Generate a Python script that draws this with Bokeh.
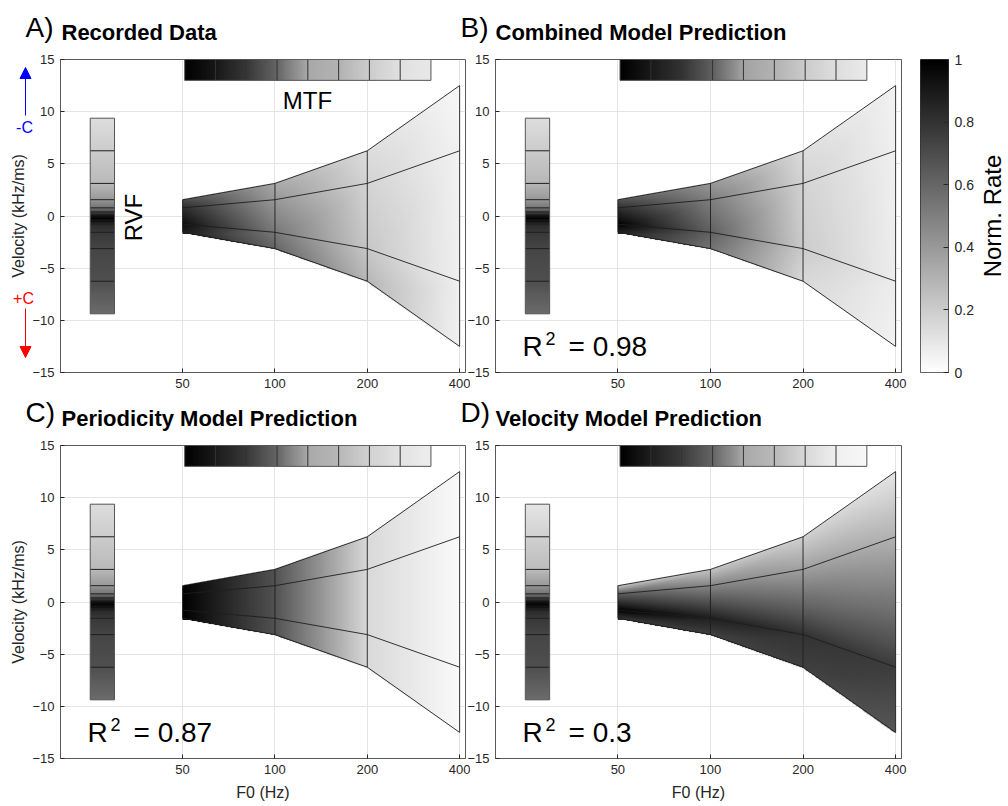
import numpy as np
from bokeh.plotting import figure
from bokeh.layouts import row, column
from bokeh.models import (Range1d, FixedTicker, BasicTickFormatter, NumeralTickFormatter,
                          Label, Arrow, NormalHead, LinearAxis)
from bokeh.embed import file_html
from bokeh.resources import INLINE

# ---------------------------------------------------------------- data
# Stimulus grid: fundamental frequency and chirp velocity (kHz/ms)
F0 = [50, 100, 200, 400]
VEL_OUTER = [1.5625, 3.125, 6.25, 12.5]
VEL_INNER = [0.78125, 1.5625, 3.125, 6.25]

# Normalised rate at each stimulus, rows = +outer, +inner, -inner, -outer velocity
rate_recorded = [[0.70, 0.33, 0.13, 0.03],
                 [0.82, 0.40, 0.17, 0.05],
                 [0.95, 0.53, 0.22, 0.06],
                 [0.90, 0.60, 0.28, 0.05]]
rate_combined = [[0.67, 0.40, 0.13, 0.05],
                 [0.80, 0.50, 0.17, 0.06],
                 [1.00, 0.62, 0.20, 0.07],
                 [0.88, 0.55, 0.15, 0.05]]
rate_periodicity = [[1.00, 0.68, 0.15, 0.02],
                    [1.00, 0.68, 0.15, 0.02],
                    [1.00, 0.68, 0.15, 0.02],
                    [1.00, 0.68, 0.15, 0.02]]
rate_velocity = [[0.22, 0.22, 0.18, 0.10],
                 [0.62, 0.47, 0.37, 0.30],
                 [1.00, 0.88, 0.80, 0.76],
                 [0.80, 0.75, 0.75, 0.66]]

# Rate-velocity function (top to bottom)
RVF_VEL = [9.375, 6.25, 3.125, 1.5625, 0.78125, 0.390625, 0.0,
           -0.390625, -0.78125, -1.5625, -3.125, -6.25, -9.375]
RVF_LINES = [6.25, 3.125, 1.5625, 0.78125, 0.390625,
             -0.390625, -0.78125, -1.5625, -3.125, -6.25]
rvf_recorded = [0.13, 0.20, 0.27, 0.40, 0.53, 0.67, 0.92, 1.00, 0.84, 0.78, 0.73, 0.69, 0.58]
rvf_combined = [0.13, 0.20, 0.28, 0.40, 0.52, 0.66, 0.92, 1.00, 0.84, 0.78, 0.73, 0.69, 0.58]
rvf_periodicity = [0.13, 0.20, 0.27, 0.40, 0.53, 0.67, 0.92, 1.00, 0.84, 0.78, 0.73, 0.69, 0.58]
rvf_velocity = [0.10, 0.18, 0.26, 0.40, 0.53, 0.67, 0.92, 1.00, 0.84, 0.78, 0.73, 0.69, 0.58]

# Modulation transfer function, third-octave F0 steps
MTF_F0 = [50.8, 64.0, 80.6, 101.6, 128.0, 161.3, 203.2, 256.0, 322.5]
mtf_recorded = [1.00, 0.91, 0.79, 0.60, 0.34, 0.30, 0.20, 0.12, 0.09]
mtf_combined = [1.00, 0.90, 0.80, 0.62, 0.36, 0.30, 0.20, 0.13, 0.08]
mtf_periodicity = [1.00, 0.90, 0.78, 0.60, 0.34, 0.28, 0.18, 0.11, 0.07]
mtf_velocity = [1.00, 0.88, 0.77, 0.60, 0.34, 0.27, 0.15, 0.06, 0.03]

R2_COMBINED = "0.98"
R2_PERIODICITY = "0.87"
R2_VELOCITY = "0.3"

X_TICKS = [50, 100, 200, 400]
Y_TICKS = [-15, -10, -5, 0, 5, 10, 15]
CBAR_TICKS = [0, 0.2, 0.4, 0.6, 0.8, 1]

# ---------------------------------------------------------------- layout / style
X_LIMITS = (20, 418)
Y_LIMITS = (-15, 15)
RVF_BAR_X = (25, 30)
MTF_BAR_Y = (13, 15)
FRAME_H = 313
FONT = "Liberation Sans"
INK = "#262626"
EDGE = "#1e1e1e"


def gray_rgba(v, mask=None):
    g = np.clip(np.round(255 * (1 - np.asarray(v, float))), 0, 255).astype(np.uint8)
    rgba = np.empty(g.shape + (4,), dtype=np.uint8)
    rgba[..., 0] = g
    rgba[..., 1] = g
    rgba[..., 2] = g
    rgba[..., 3] = 255 if mask is None else np.where(mask, 255, 0)
    return np.ascontiguousarray(rgba).view(np.uint32).reshape(g.shape)


def fan_rgba(rates, nx=560, ny=524):
    """Shaded fan: each cell split into two triangles, colours interpolated."""
    rates = np.asarray(rates, float)
    lx = np.log2(F0)
    vmax = VEL_OUTER[-1]
    u = lx[0] + (np.arange(nx) + 0.5) * (lx[-1] - lx[0]) / nx
    y = -vmax + (np.arange(ny) + 0.5) * (2 * vmax) / ny
    U, Y = np.meshgrid(u, y)
    k = np.clip(np.searchsorted(lx, U, side="right") - 1, 0, len(F0) - 2)
    tx = (U - lx[k]) / (lx[k + 1] - lx[k])
    outer = np.interp(U, lx, VEL_OUTER)
    inner = np.interp(U, lx, VEL_INNER)
    edges = np.stack([outer, inner, -inner, -outer])
    # the fill stops just under the outline on both edges
    inside = (Y <= outer - 0.03) & (Y >= -outer - 0.12)
    band = np.where(Y >= inner, 0, np.where(Y >= -inner, 1, 2))
    up_row, lo_row = band, band + 1
    y_up = np.take_along_axis(edges, up_row[None], 0)[0]
    y_lo = np.take_along_axis(edges, lo_row[None], 0)[0]
    ty = np.clip((Y - y_lo) / (y_up - y_lo), 0, 1)
    BL, BR = rates[lo_row, k], rates[lo_row, k + 1]
    TL, TR = rates[up_row, k], rates[up_row, k + 1]
    v = np.where(tx >= ty, BL + tx * (BR - BL) + ty * (TR - BR),
                 BL + ty * (TL - BL) + tx * (TR - TL))
    return gray_rgba(v, inside)


def rvf_rgba(rates, ny=200):
    y = RVF_VEL[-1] + (np.arange(ny) + 0.5) * (RVF_VEL[0] - RVF_VEL[-1]) / ny
    v = np.interp(y, RVF_VEL[::-1], rates[::-1])
    return gray_rgba(v[:, None])


def mtf_rgba(rates, nx=250):
    lx = np.log2(MTF_F0)
    u = lx[0] + (np.arange(nx) + 0.5) * (lx[-1] - lx[0]) / nx
    v = np.interp(u, lx, rates)
    return gray_rgba(v[None, :])


def label(p, x, y, text, size, **kw):
    opts = dict(x=x, y=y, x_units="screen", y_units="screen", text=text,
                text_font=FONT, text_font_size=size, text_color="black",
                text_baseline="alphabetic", text_align="left")
    opts.update(kw)
    p.add_layout(Label(**opts))


def strip(width, height, top=0, bottom=0):
    """Blank canvas used for texts that sit outside the axes boxes."""
    inner_h = height - top - bottom
    s = figure(width=width, height=height, title=None,
               x_range=Range1d(0, width), y_range=Range1d(0, inner_h),
               x_axis_location=None, y_axis_location=None,
               output_backend="svg", toolbar_location=None,
               min_border_left=0, min_border_right=0,
               min_border_top=top, min_border_bottom=bottom)
    s.grid.visible = False
    s.outline_line_color = None
    s.background_fill_color = "white"
    s.border_fill_color = "white"
    return s


def make_panel(fan, rvf, mtf, width, left, right, top, bottom, overlap,
               xlabel=False, r2=None):
    p = figure(width=width, height=top + FRAME_H + bottom, title=None,
               x_axis_type="log", x_range=Range1d(*X_LIMITS), y_range=Range1d(*Y_LIMITS),
               output_backend="svg", toolbar_location=None,
               min_border_left=left, min_border_right=right,
               min_border_top=top, min_border_bottom=bottom)
    # transparent margins so that neighbouring tick labels may share the gap
    p.margin = (0, 0, 0, -overlap)
    p.background_fill_color = "white"
    p.border_fill_alpha = 0
    p.outline_line_color = "#5a5a5a"

    p.xaxis.ticker = FixedTicker(ticks=X_TICKS, minor_ticks=[])
    p.yaxis.ticker = FixedTicker(ticks=Y_TICKS, minor_ticks=[])
    p.xaxis.formatter = BasicTickFormatter()
    p.yaxis.formatter = BasicTickFormatter()
    for ax in (p.xaxis, p.yaxis):
        ax.major_tick_in = 4
        ax.major_tick_out = 0
        ax.minor_tick_in = 0
        ax.minor_tick_out = 0
        ax.axis_line_color = "#5a5a5a"
        ax.major_tick_line_color = INK
        ax.major_label_text_font = FONT
        ax.major_label_text_font_size = "13px"
        ax.major_label_text_color = INK
        ax.major_label_standoff = 6
        ax.axis_label_text_font = FONT
        ax.axis_label_text_font_size = "16px"
        ax.axis_label_text_font_style = "normal"
        ax.axis_label_text_color = INK
    if xlabel:
        p.xaxis.axis_label = "F0 (Hz)"
        p.xaxis.axis_label_standoff = 7

    p.xgrid.ticker = FixedTicker(ticks=X_TICKS, minor_ticks=[])
    p.ygrid.ticker = FixedTicker(ticks=Y_TICKS, minor_ticks=[])
    p.grid.grid_line_color = "#e4e4e4"
    p.grid.grid_line_width = 1

    # shaded fan of stimulus conditions
    vmax = VEL_OUTER[-1]
    p.image_rgba(image=[fan_rgba(fan)], x=F0[0], y=-vmax,
                 dw=F0[-1] - F0[0], dh=2 * vmax)
    p.multi_line(xs=[F0] * 4,
                 ys=[VEL_OUTER, VEL_INNER, [-v for v in VEL_INNER], [-v for v in VEL_OUTER]],
                 line_color=EDGE, line_width=0.9)
    p.segment(x0=F0, x1=F0, y0=[-v for v in VEL_OUTER], y1=VEL_OUTER,
              line_color=EDGE, line_width=0.9)

    # rate-velocity bar
    x0, x1 = RVF_BAR_X
    p.image_rgba(image=[rvf_rgba(rvf)], x=x0, y=RVF_VEL[-1], dw=x1 - x0,
                 dh=RVF_VEL[0] - RVF_VEL[-1])
    p.segment(x0=[x0] * len(RVF_LINES), x1=[x1] * len(RVF_LINES), y0=RVF_LINES,
              y1=RVF_LINES, line_color="#1e1e1e", line_width=1)
    p.quad(left=x0, right=x1, bottom=RVF_VEL[-1], top=RVF_VEL[0],
           fill_color=None, line_color="#555555", line_width=1)

    # modulation transfer bar
    y0, y1 = MTF_BAR_Y
    p.image_rgba(image=[mtf_rgba(mtf)], x=MTF_F0[0], y=y0, dw=MTF_F0[-1] - MTF_F0[0],
                 dh=y1 - y0)
    p.segment(x0=MTF_F0[1:-1], x1=MTF_F0[1:-1], y0=y0, y1=y1,
              line_color="#333333", line_width=1)
    p.quad(left=MTF_F0[0], right=MTF_F0[-1], bottom=y0, top=y1,
           fill_color=None, line_color="#555555", line_width=1)

    if r2 is not None:
        label(p, 27, 26, "R", "28px")
        label(p, 50, 34, "2", "18px")
        label(p, 73, 26, "= " + r2, "28px")
    return p


# ---- top row
titles_top = strip(1008, 50)
label(titles_top, 25, 23.5, "A)", "28px")
label(titles_top, 61, 18.5, "Recorded Data", "22px", text_font_style="bold")
label(titles_top, 460, 23.5, "B)", "28px")
label(titles_top, 495, 18.5, "Combined Model Prediction", "22px", text_font_style="bold")

side_a = strip(36, 344, top=9, bottom=22)
label(side_a, 17.5, 156.5, "Velocity (kHz/ms)", "16px", text_align="center",
      text_color=INK, angle=np.pi / 2)
side_a.add_layout(Arrow(end=NormalHead(size=11, fill_color="#0000ff", line_color="#0000ff"),
                        x_start=25, y_start=257, x_end=25, y_end=305,
                        line_color="#0000ff", line_width=1))
side_a.add_layout(Arrow(end=NormalHead(size=11, fill_color="#ff0000", line_color="#ff0000"),
                        x_start=25, y_start=64, x_end=25, y_end=15,
                        line_color="#ff0000", line_width=1))
label(side_a, 24, 245, "-C", "16px", text_align="center", text_color="#0000ff")
label(side_a, 23, 74, "+C", "16px", text_align="center", text_color="#ff0000")

pA = make_panel(rate_recorded, rvf_recorded, mtf_recorded,
                width=441, left=31, right=5, top=9, bottom=22, overlap=7)
pB = make_panel(rate_combined, rvf_combined, mtf_combined,
                width=447, left=31, right=10, top=9, bottom=22, overlap=6,
                r2=R2_COMBINED)

# bar annotations on the recorded-data panel
label(pA, 247, 272, "MTF", "24px", text_align="center")
label(pA, 73, 155, "RVF", "24px", text_align="center", angle=np.pi / 2)

# colour bar
cb = figure(width=67, height=9 + FRAME_H + 22, title=None,
            x_range=Range1d(0, 1), y_range=Range1d(0, 1),
            x_axis_location=None, y_axis_location=None,
            output_backend="svg", toolbar_location=None,
            min_border_left=9, min_border_right=30, min_border_top=9, min_border_bottom=22)
cb.grid.visible = False
cb.outline_line_color = "#333333"
cb.background_fill_color = "white"
cb.border_fill_color = "white"
levels = np.linspace(0, 1, 256)
cb.image_rgba(image=[gray_rgba(levels[:, None])], x=0, y=0, dw=1, dh=1)
cax = LinearAxis(ticker=FixedTicker(ticks=CBAR_TICKS, minor_ticks=[]),
                 formatter=NumeralTickFormatter(format="0.[0]"))
cax.major_tick_in = 5
cax.major_tick_out = 0
cax.minor_tick_in = 0
cax.minor_tick_out = 0
cax.axis_line_color = None
cax.major_tick_line_color = INK
cax.major_label_text_font = FONT
cax.major_label_text_font_size = "14px"
cax.major_label_text_color = INK
cax.major_label_standoff = 6
cb.add_layout(cax, "right")

side_cb = strip(30, 344, top=9, bottom=22)
label(side_cb, 14, 156.5, "Norm. Rate", "24px", text_align="center", angle=np.pi / 2)

# ---- bottom row
titles_bottom = strip(1008, 43)
label(titles_bottom, 25, 25.5, "C)", "28px")
label(titles_bottom, 61, 19.5, "Periodicity Model Prediction", "22px", text_font_style="bold")
label(titles_bottom, 460, 25.5, "D)", "28px")
label(titles_bottom, 495, 19.5, "Velocity Model Prediction", "22px", text_font_style="bold")

side_c = strip(36, 369, top=8, bottom=48)
label(side_c, 17.5, 156.5, "Velocity (kHz/ms)", "16px", text_align="center",
      text_color=INK, angle=np.pi / 2)

pC = make_panel(rate_periodicity, rvf_periodicity, mtf_periodicity,
                width=441, left=31, right=5, top=8, bottom=48, overlap=7,
                xlabel=True, r2=R2_PERIODICITY)
pD = make_panel(rate_velocity, rvf_velocity, mtf_velocity,
                width=447, left=31, right=10, top=8, bottom=48, overlap=6,
                xlabel=True, r2=R2_VELOCITY)

layout = column(titles_top,
                row(side_a, pA, pB, cb, side_cb, spacing=0),
                titles_bottom,
                row(side_c, pC, pD, spacing=0),
                spacing=0)

with open("out.html", "w") as f:
    f.write(file_html(layout, INLINE))
